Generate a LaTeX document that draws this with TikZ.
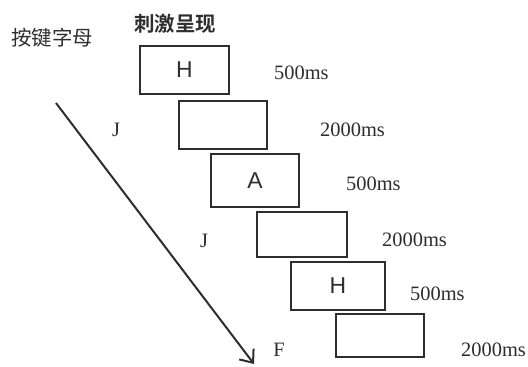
\documentclass[tikz,border=0pt]{standalone}
\usepackage{fontspec}
\setmainfont{Liberation Serif}
\newfontfamily\cjk{Noto Sans CJK SC}
\newfontfamily\cjkb{Noto Sans CJK SC Bold}
\newfontfamily\arialf{Liberation Sans}
\usetikzlibrary{arrows.meta}
\definecolor{ink}{HTML}{2E2E2E}
\begin{document}
\begin{tikzpicture}[x=1bp,y=-1bp,
  stim/.style={draw=ink,line width=1.8bp,minimum width=#1,minimum height=48bp,inner sep=0pt,
    font=\arialf\fontsize{23}{23}\selectfont,text=ink},
  lab/.style={font=\fontsize{20.5}{20.5}\selectfont,text=ink,inner sep=0pt},
  cjklab/.style={font=\cjk\fontsize{20.5}{20.5}\selectfont,text=ink,inner sep=0pt}]
\useasboundingbox[fill=white] (0,0) rectangle (528,366);
% stimulus boxes
\node[stim=89bp,minimum height=48bp] (b1) at (184.5,70) {H};
\node[stim=88bp,minimum height=48bp] (b2) at (223,125) {};
\node[stim=88bp,minimum height=53bp] (b3) at (255,180.5) {A};
\node[stim=90bp,minimum height=45bp] (b4) at (302,234.5) {};
\node[stim=94bp,minimum height=48bp] (b5) at (338,286) {H};
\node[stim=88bp,minimum height=43bp] (b6) at (380,335.5) {};
% durations
\node[lab,anchor=west] (d1) at (274,73) {500ms};
\node[lab,anchor=west] (d2) at (320,130) {2000ms};
\node[lab,anchor=west] (d3) at (346,184) {500ms};
\node[lab,anchor=west] (d4) at (382,240) {2000ms};
\node[lab,anchor=west] (d5) at (410,294) {500ms};
\node[lab,anchor=west] (d6) at (461,350) {2000ms};
% keys
\node[lab] (k1) at (116,130) {J};
\node[lab] (k2) at (204,241) {J};
\node[lab] (k3) at (279,350) {F};
% headings
\node[cjklab,anchor=west] (h1) at (11,38) {按键字母};
\node[cjklab,anchor=west,font=\cjkb\fontsize{20.5}{20.5}\selectfont] (h2) at (134,24) {刺激呈现};
% arrow
\coordinate (a0) at (56,103);
\coordinate (a1) at (254,364);
\draw[ink,line width=2bp,-{Straight Barb[length=11bp,width=18bp,line width=2bp]}] (a0) -- (a1);
\end{tikzpicture}
\end{document}
